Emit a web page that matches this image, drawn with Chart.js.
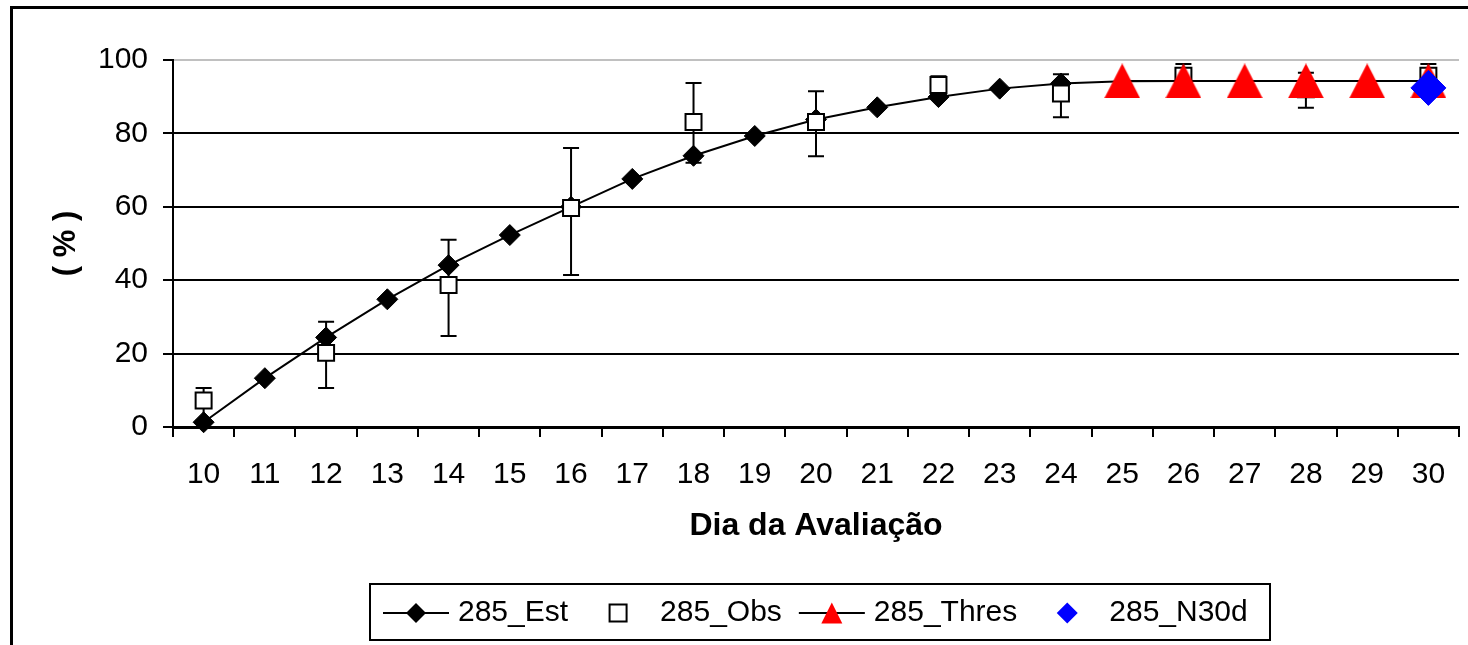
<!DOCTYPE html>
<html lang="pt">
<head>
<meta charset="utf-8">
<title>285 - Dia da Avaliação</title>
<script src="https://cdn.jsdelivr.net/npm/chart.js@4.4.1/dist/chart.umd.min.js"></script>
<style>
  html, body { margin: 0; padding: 0; background: #fff; }
  #wrap { width: 1468px; height: 645px; }
</style>
</head>
<body>
<div id="wrap"><canvas id="grafico" width="1468" height="645"></canvas></div>
<script>
/* ============================================
   285 - curva estimada x observada
   ============================================ */

const dias = ['10', '11', '12', '13', '14', '15', '16', '17', '18', '19', '20',
  '21', '22', '23', '24', '25', '26', '27', '28', '29', '30'];

const est = [1.3, 13.3, 24.4, 34.8, 44.1, 52.3, 60.0, 67.6, 73.9, 79.3, 83.8,
  87.1, 89.9, 92.2, 93.6, 94.2, 94.3, 94.3, 94.3, 94.3, 94.3];

const obs = [7.2, null, 20.2, null, 38.7, null, 59.7, null, 83.1, null, 83.1,
  null, 93.2, null, 90.9, null, 95.7, null, 92.0, null, 95.7];

// barras de erro (acima / abaixo)
const obsErroSup = [3.4, null, 8.5, null, 12.3, null, 16.3, null, 10.6, null, 8.4,
  null, 2.4, null, 5.2, null, 3.2, null, 4.5, null, 3.2];
const obsErroInf = [5.5, null, 9.6, null, 13.9, null, 18.3, null, 11.1, null, 9.3,
  null, 3.0, null, 6.5, null, 3.2, null, 5.0, null, 3.2];

const thres = [null, null, null, null, null, null, null, null, null, null, null,
  null, null, null, null, 94.3, 94.3, 94.3, 94.3, 94.3, 94.3];

const n30d = [null, null, null, null, null, null, null, null, null, null, null,
  null, null, null, null, null, null, null, null, null, 92.4];

const yTicks = [0, 20, 40, 60, 80, 100];

const FONTE = '"Liberation Sans", Arial, sans-serif';

function desenharMarcador(ctx, tipo, x, y, tam, cor, borda) {
  ctx.save();
  ctx.beginPath();
  if (tipo === 'losango') {
    ctx.moveTo(x, y - tam);
    ctx.lineTo(x + tam, y);
    ctx.lineTo(x, y + tam);
    ctx.lineTo(x - tam, y);
  } else if (tipo === 'quadrado') {
    ctx.rect(x - tam, y - tam, tam * 2, tam * 2);
  } else if (tipo === 'triangulo') {
    ctx.moveTo(x, y - tam);
    ctx.lineTo(x + tam, y + tam);
    ctx.lineTo(x - tam, y + tam);
  }
  ctx.closePath();
  ctx.fillStyle = cor;
  ctx.fill();
  if (borda) {
    ctx.lineWidth = 2;
    ctx.strokeStyle = borda;
    ctx.stroke();
  }
  ctx.restore();
}

// triangulo do Excel: um pouco mais alto que o equilatero do Chart.js
function criarTriangulo(larg, alt, cor) {
  const c = document.createElement('canvas');
  c.width = larg;
  c.height = alt;
  const g = c.getContext('2d');
  g.beginPath();
  g.moveTo(larg / 2, 0);
  g.lineTo(larg, alt);
  g.lineTo(0, alt);
  g.closePath();
  g.fillStyle = cor;
  g.fill();
  return c;
}

const moldura = {
  id: 'moldura',
  beforeDraw(chart) {
    const { ctx, width, height } = chart;
    ctx.save();
    ctx.fillStyle = '#fff';
    ctx.fillRect(0, 0, width, height);
    ctx.lineWidth = 3;
    ctx.strokeStyle = '#000';
    ctx.strokeRect(11.5, 7.5, width + 40, height + 40);
    ctx.restore();
  }
};

const barrasErro = {
  id: 'barrasErro',
  beforeDatasetsDraw(chart) {
    const { ctx, scales: { x, y } } = chart;
    ctx.save();
    ctx.strokeStyle = '#000';
    ctx.lineWidth = 2;
    obs.forEach((v, i) => {
      if (v === null) return;
      const px = x.getPixelForValue(i);
      const yTopo = y.getPixelForValue(v + obsErroSup[i]);
      const yBase = y.getPixelForValue(v - obsErroInf[i]);
      ctx.beginPath();
      ctx.moveTo(px, yTopo);
      ctx.lineTo(px, yBase);
      ctx.moveTo(px - 8, yTopo);
      ctx.lineTo(px + 8, yTopo);
      ctx.moveTo(px - 8, yBase);
      ctx.lineTo(px + 8, yBase);
      ctx.stroke();
    });
    ctx.restore();
  }
};

const legenda = {
  id: 'legenda',
  afterDraw(chart) {
    const { ctx, chartArea } = chart;
    const slot = 58, folga = 13, espaco = 21;
    ctx.save();
    ctx.font = '30px ' + FONTE;
    ctx.textBaseline = 'middle';
    ctx.fillStyle = '#000';

    const itens = chart.data.datasets.map((ds) => ({
      ds,
      w: slot + folga + ctx.measureText(ds.label).width,
    }));
    const conteudo = itens.reduce((s, it) => s + it.w, 0) + espaco * (itens.length - 1);
    const largura = Math.round(conteudo + 17 + 22);
    const centro = (chartArea.left + chartArea.right) / 2 + 4;
    const esq = Math.round(centro - largura / 2);
    const topo = chart.scales.x.bottom + 39;
    const alt = 56;

    ctx.lineWidth = 2;
    ctx.strokeStyle = '#000';
    ctx.strokeRect(esq, topo, largura, alt);

    const cy = topo + alt / 2 + 1;
    let x = esq + 17;
    itens.forEach(({ ds, w }) => {
      const mx = x + slot / 2;
      const m = ds.marcadorLegenda;
      if (ds.showLine !== false) {
        ctx.beginPath();
        ctx.moveTo(mx - 33, cy);
        ctx.lineTo(mx + 33, cy);
        ctx.lineWidth = 2;
        ctx.strokeStyle = '#000';
        ctx.stroke();
      }
      desenharMarcador(ctx, m.tipo, mx, cy, m.tam, m.cor, m.borda);
      ctx.fillStyle = '#000';
      ctx.fillText(ds.label, x + slot + folga, cy);
      x += w + espaco;
    });
    ctx.restore();
  }
};

const ctx = document.getElementById('grafico');

new Chart(ctx, {
  type: 'line',
  data: {
    labels: dias,
    datasets: [
      {
        label: '285_Est',
        data: est,
        borderColor: '#000',
        backgroundColor: '#000',
        borderWidth: 2,
        tension: 0,
        pointStyle: 'rectRot',
        pointRadius: est.map((v, i) => (thres[i] === null ? 10.5 : 0)),
        pointBorderWidth: 1,
        clip: false,
        order: 3,
        marcadorLegenda: { tipo: 'losango', tam: 10, cor: '#000' },
      },
      {
        label: '285_Obs',
        data: obs,
        showLine: false,
        pointStyle: 'rect',
        pointRadius: 11.3,
        pointBackgroundColor: '#fff',
        pointBorderColor: '#000',
        pointBorderWidth: 2,
        clip: false,
        order: 2,
        marcadorLegenda: { tipo: 'quadrado', tam: 8.5, cor: '#fff', borda: '#000' },
      },
      {
        label: '285_Thres',
        data: thres,
        borderColor: '#000',
        backgroundColor: '#ff0000',
        borderWidth: 2,
        tension: 0,
        pointStyle: criarTriangulo(36, 35, '#ff0000'),
        pointRadius: 10,
        clip: false,
        order: 1,
        marcadorLegenda: { tipo: 'triangulo', tam: 10.5, cor: '#ff0000' },
      },
      {
        label: '285_N30d',
        data: n30d,
        showLine: false,
        pointStyle: 'rectRot',
        pointRadius: 17.5,
        pointBackgroundColor: '#0000ff',
        pointBorderColor: '#0000ff',
        pointBorderWidth: 1,
        clip: false,
        order: 0,
        marcadorLegenda: { tipo: 'losango', tam: 10.5, cor: '#0000ff' },
      },
    ],
  },
  options: {
    responsive: false,
    animation: false,
    devicePixelRatio: 1,
    layout: {
      autoPadding: false,
      padding: { top: 60, left: 20, right: 9, bottom: 100 },
    },
    plugins: {
      legend: { display: false },
      tooltip: { enabled: false },
    },
    scales: {
      x: {
        offset: true,
        afterFit: (scale) => {
          scale.height = 118;
          scale.paddingLeft = 0;
          scale.paddingRight = 0;
        },
        grid: {
          offset: true,
          drawOnChartArea: false,
          drawTicks: true,
          tickLength: 10,
          tickColor: '#000',
          lineWidth: 2,
        },
        border: { display: true, color: '#000', width: 3 },
        ticks: {
          color: '#000',
          padding: 20,
          maxRotation: 0,
          autoSkip: false,
          font: { family: FONTE, size: 30 },
        },
        title: {
          display: true,
          text: 'Dia da Avaliação',
          color: '#000',
          padding: { top: 0, bottom: 0 },
          font: { family: FONTE, size: 32, weight: 'bold' },
        },
      },
      y: {
        min: 0,
        max: 100,
        afterFit: (scale) => { scale.width = 153; },
        afterBuildTicks: (scale) => {
          scale.ticks = yTicks.map((v) => ({ value: v }));
        },
        grid: {
          color: (c) => (c.tick && c.tick.value === 100 ? '#c0c0c0' : '#000'),
          lineWidth: 2,
          tickLength: 10,
          tickColor: '#000',
        },
        border: { display: true, color: '#000', width: 2 },
        ticks: {
          color: '#000',
          padding: 15,
          font: { family: FONTE, size: 30 },
        },
        title: {
          display: true,
          text: '( % )',
          color: '#000',
          padding: { top: 28, bottom: 0 },
          font: { family: FONTE, size: 31, weight: 'bold' },
        },
      },
    },
  },
  plugins: [moldura, barrasErro, legenda],
});
</script>
</body>
</html>
